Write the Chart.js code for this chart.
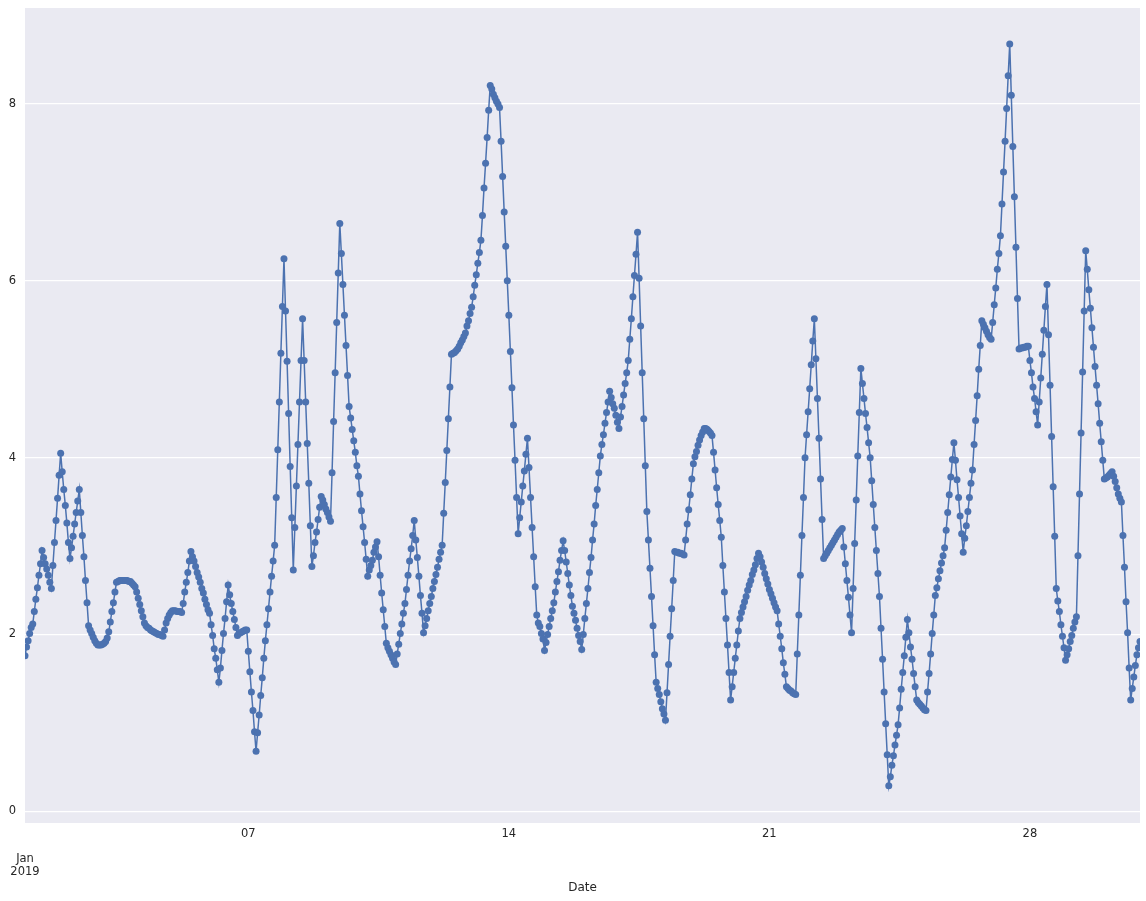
<!DOCTYPE html>
<html>
<head>
<meta charset="utf-8">
<script src="https://cdn.jsdelivr.net/npm/chart.js@4.4.1/dist/chart.umd.min.js"></script>
<style>
  html, body { margin: 0; padding: 0; background: #ffffff; }
  #chart { display: block; }
</style>
</head>
<body>
<canvas id="chart" width="1146" height="901"></canvas>
<script>
// hourly readings, Jan 2019 (one array per day, 24 values each)
const jan01 = [1.76, 1.86, 1.93, 2.01, 2.08, 2.12, 2.26, 2.40, 2.53, 2.67, 2.80, 2.95, 2.87, 2.80, 2.74, 2.67, 2.59, 2.52, 2.78, 3.04, 3.29, 3.54, 3.80, 4.05];
const jan02 = [3.84, 3.64, 3.46, 3.26, 3.04, 2.86, 2.98, 3.11, 3.25, 3.38, 3.51, 3.64, 3.38, 3.12, 2.88, 2.61, 2.36, 2.10, 2.05, 2.01, 1.97, 1.93, 1.90, 1.88];
const jan03 = [1.88, 1.88, 1.89, 1.90, 1.92, 1.96, 2.03, 2.14, 2.26, 2.36, 2.48, 2.59, 2.60, 2.61, 2.61, 2.61, 2.61, 2.61, 2.61, 2.60, 2.60, 2.58, 2.56, 2.54];
const jan04 = [2.48, 2.41, 2.34, 2.27, 2.20, 2.13, 2.10, 2.08, 2.07, 2.05, 2.04, 2.03, 2.02, 2.01, 2.00, 2.00, 1.99, 1.98, 2.05, 2.13, 2.18, 2.22, 2.25, 2.27];
const jan05 = [2.27, 2.27, 2.26, 2.26, 2.26, 2.25, 2.35, 2.48, 2.59, 2.70, 2.83, 2.94, 2.88, 2.83, 2.77, 2.70, 2.65, 2.59, 2.52, 2.47, 2.40, 2.34, 2.28, 2.24];
const jan06 = [2.11, 1.99, 1.84, 1.73, 1.60, 1.46, 1.62, 1.82, 2.01, 2.18, 2.37, 2.56, 2.45, 2.35, 2.26, 2.17, 2.08, 1.99, 2.01, 2.02, 2.03, 2.04, 2.05, 2.05];
const jan07 = [1.81, 1.58, 1.35, 1.14, 0.90, 0.68, 0.89, 1.09, 1.31, 1.51, 1.73, 1.93, 2.11, 2.29, 2.48, 2.66, 2.83, 3.01, 3.55, 4.09, 4.63, 5.18, 5.71, 6.25];
const jan08 = [5.66, 5.09, 4.50, 3.90, 3.32, 2.73, 3.21, 3.68, 4.15, 4.63, 5.10, 5.57, 5.10, 4.63, 4.16, 3.71, 3.23, 2.77, 2.89, 3.04, 3.16, 3.30, 3.44, 3.56];
const jan09 = [3.52, 3.47, 3.42, 3.38, 3.33, 3.28, 3.83, 4.41, 4.96, 5.53, 6.09, 6.65, 6.31, 5.96, 5.61, 5.27, 4.93, 4.58, 4.45, 4.32, 4.19, 4.06, 3.91, 3.79];
const jan10 = [3.59, 3.40, 3.22, 3.04, 2.85, 2.66, 2.73, 2.78, 2.84, 2.93, 2.99, 3.05, 2.88, 2.67, 2.47, 2.28, 2.09, 1.90, 1.85, 1.81, 1.77, 1.73, 1.69, 1.66];
const jan11 = [1.78, 1.89, 2.01, 2.12, 2.24, 2.35, 2.51, 2.67, 2.83, 2.97, 3.12, 3.29, 3.07, 2.87, 2.66, 2.44, 2.24, 2.02, 2.10, 2.18, 2.27, 2.35, 2.43, 2.52];
const jan12 = [2.60, 2.68, 2.76, 2.85, 2.93, 3.01, 3.37, 3.72, 4.08, 4.44, 4.80, 5.17, 5.18, 5.19, 5.21, 5.23, 5.26, 5.30, 5.33, 5.37, 5.41, 5.49, 5.55, 5.63];
const jan13 = [5.70, 5.82, 5.95, 6.07, 6.20, 6.32, 6.46, 6.74, 7.05, 7.33, 7.62, 7.93, 8.21, 8.17, 8.11, 8.07, 8.03, 8.00, 7.96, 7.58, 7.18, 6.78, 6.39, 6.00];
const jan14 = [5.61, 5.20, 4.79, 4.37, 3.97, 3.55, 3.14, 3.32, 3.50, 3.68, 3.85, 4.04, 4.22, 3.89, 3.55, 3.21, 2.88, 2.54, 2.22, 2.13, 2.09, 2.01, 1.95, 1.82];
const jan15 = [1.91, 2.00, 2.09, 2.18, 2.27, 2.36, 2.48, 2.60, 2.71, 2.84, 2.95, 3.06, 2.95, 2.82, 2.69, 2.56, 2.44, 2.32, 2.24, 2.16, 2.07, 1.99, 1.92, 1.83];
const jan16 = [2.00, 2.18, 2.35, 2.52, 2.70, 2.87, 3.07, 3.25, 3.46, 3.64, 3.83, 4.02, 4.15, 4.26, 4.39, 4.51, 4.63, 4.75, 4.68, 4.61, 4.56, 4.48, 4.40, 4.33];
const jan17 = [4.46, 4.58, 4.71, 4.84, 4.96, 5.10, 5.34, 5.57, 5.82, 6.06, 6.30, 6.55, 6.03, 5.49, 4.96, 4.44, 3.91, 3.39, 3.07, 2.75, 2.43, 2.10, 1.77, 1.46];
const jan18 = [1.39, 1.32, 1.24, 1.16, 1.10, 1.03, 1.34, 1.66, 1.98, 2.29, 2.61, 2.94, 2.93, 2.93, 2.92, 2.92, 2.91, 2.90, 3.07, 3.25, 3.41, 3.58, 3.76, 3.93];
const jan19 = [4.01, 4.07, 4.14, 4.20, 4.25, 4.29, 4.33, 4.33, 4.32, 4.30, 4.28, 4.25, 4.06, 3.86, 3.66, 3.47, 3.29, 3.10, 2.78, 2.48, 2.18, 1.88, 1.57, 1.26];
const jan20 = [1.41, 1.57, 1.73, 1.88, 2.04, 2.18, 2.25, 2.31, 2.37, 2.43, 2.50, 2.56, 2.61, 2.68, 2.73, 2.79, 2.86, 2.92, 2.88, 2.82, 2.76, 2.69, 2.63, 2.57];
const jan21 = [2.51, 2.46, 2.41, 2.36, 2.31, 2.27, 2.12, 1.98, 1.84, 1.68, 1.55, 1.41, 1.39, 1.37, 1.36, 1.34, 1.33, 1.32, 1.78, 2.22, 2.67, 3.12, 3.55, 4.00];
const jan22 = [4.26, 4.52, 4.78, 5.05, 5.32, 5.57, 5.12, 4.67, 4.22, 3.76, 3.30, 2.86, 2.89, 2.92, 2.95, 2.98, 3.01, 3.04, 3.07, 3.10, 3.13, 3.16, 3.18, 3.20];
const jan23 = [2.99, 2.80, 2.61, 2.42, 2.22, 2.02, 2.52, 3.03, 3.52, 4.02, 4.51, 5.01, 4.84, 4.67, 4.50, 4.34, 4.17, 4.00, 3.74, 3.47, 3.21, 2.95, 2.69, 2.43];
const jan24 = [2.07, 1.72, 1.35, 0.99, 0.64, 0.29, 0.39, 0.52, 0.63, 0.75, 0.86, 0.98, 1.17, 1.38, 1.57, 1.76, 1.97, 2.17, 2.02, 1.86, 1.72, 1.56, 1.41, 1.26];
const jan25 = [1.23, 1.21, 1.19, 1.17, 1.15, 1.14, 1.35, 1.56, 1.78, 2.01, 2.22, 2.44, 2.53, 2.63, 2.72, 2.81, 2.89, 2.98, 3.18, 3.38, 3.58, 3.78, 3.98, 4.17];
const jan26 = [3.97, 3.75, 3.55, 3.34, 3.14, 2.93, 3.09, 3.23, 3.39, 3.55, 3.71, 3.86, 4.15, 4.42, 4.70, 5.00, 5.27, 5.55, 5.51, 5.47, 5.43, 5.39, 5.36, 5.34];
const jan27 = [5.53, 5.73, 5.92, 6.13, 6.31, 6.51, 6.87, 7.23, 7.58, 7.95, 8.32, 8.68, 8.10, 7.52, 6.95, 6.38, 5.80, 5.23, 5.24, 5.24, 5.25, 5.25, 5.26, 5.26];
const jan28 = [5.10, 4.96, 4.80, 4.67, 4.52, 4.37, 4.63, 4.90, 5.17, 5.44, 5.71, 5.96, 5.39, 4.82, 4.24, 3.67, 3.11, 2.52, 2.38, 2.26, 2.11, 1.98, 1.85, 1.71];
const jan29 = [1.77, 1.84, 1.92, 1.99, 2.07, 2.14, 2.20, 2.89, 3.59, 4.28, 4.97, 5.66, 6.34, 6.13, 5.90, 5.69, 5.47, 5.25, 5.03, 4.82, 4.61, 4.39, 4.18, 3.97];
const jan30 = [3.76, 3.77, 3.78, 3.80, 3.82, 3.84, 3.79, 3.73, 3.66, 3.59, 3.54, 3.50, 3.12, 2.76, 2.37, 2.02, 1.62, 1.26, 1.39, 1.52, 1.65, 1.77, 1.85, 1.92];

// x axis: hours since Jan 1 00:00
const xTickHours = [0, 144, 312, 480, 648];
const xTickLabels = ['Jan\n2019', '07', '14', '21', '28'];
const yTicks = [0, 2, 4, 6, 8];

const days = [jan01, jan02, jan03, jan04, jan05, jan06, jan07, jan08, jan09, jan10,
              jan11, jan12, jan13, jan14, jan15, jan16, jan17, jan18, jan19, jan20,
              jan21, jan22, jan23, jan24, jan25, jan26, jan27, jan28, jan29, jan30];
const series = days.flat();
const points = series.map((v, i) => ({ x: i, y: v }));

const BLUE = '#4C72B0';
const TEXT = '#262626';

// ---------- seaborn-ish grey plot background ----------
const plotBackground = {
  id: 'plotBackground',
  beforeDraw(chart) {
    const { ctx, chartArea: a } = chart;
    ctx.save();
    ctx.fillStyle = '#EAEAF2';
    ctx.fillRect(a.left, a.top, a.right - a.left, a.bottom - a.top);
    ctx.restore();
  }
};

new Chart(document.getElementById('chart').getContext('2d'), {
  type: 'line',
  data: {
    datasets: [{
      data: points,
      borderColor: BLUE,
      backgroundColor: BLUE,
      borderWidth: 1.5,
      pointRadius: 3.5,
      pointBorderWidth: 0,
      pointBackgroundColor: BLUE,
      tension: 0
    }]
  },
  options: {
    responsive: false,
    animation: false,
    layout: { padding: { left: 0, right: 6, top: 8, bottom: 0 } },
    plugins: { legend: { display: false }, tooltip: { enabled: false } },
    scales: {
      x: {
        type: 'linear',
        min: 0,
        max: series.length - 1,
        grid: { display: false, drawTicks: false },
        border: { display: false },
        afterBuildTicks: s => { s.ticks = xTickHours.map(v => ({ value: v })); },
        afterFit: s => { s.height = 78; },
        ticks: {
          autoSkip: false,
          maxRotation: 0,
          padding: 5,
          color: TEXT,
          font: { family: 'DejaVu Sans', size: 11.5, lineHeight: '12.5px' },
          callback: (v) => {
            const lbl = xTickLabels[xTickHours.indexOf(v)] || '';
            // month label sits two lines lower, like pandas' major ticks
            return lbl.includes('\n') ? ['', ''].concat(lbl.split('\n')) : lbl;
          }
        },
        title: {
          display: true,
          text: 'Date',
          color: TEXT,
          font: { family: 'DejaVu Sans', size: 12 },
          padding: { top: 0, bottom: 6 }
        }
      },
      y: {
        min: -0.132,
        max: 9.086,
        // invisible tick marks give the label gap without padding the top
        grid: { color: '#ffffff', lineWidth: 1.3, drawTicks: true, tickLength: 9, tickColor: 'rgba(0,0,0,0)' },
        border: { display: false },
        afterBuildTicks: s => { s.ticks = yTicks.map(v => ({ value: v })); },
        afterFit: s => { s.width = 25; },
        ticks: {
          padding: 0,
          color: TEXT,
          font: { family: 'DejaVu Sans', size: 11.5 }
        }
      }
    }
  },
  plugins: [plotBackground]
});
</script>
</body>
</html>
